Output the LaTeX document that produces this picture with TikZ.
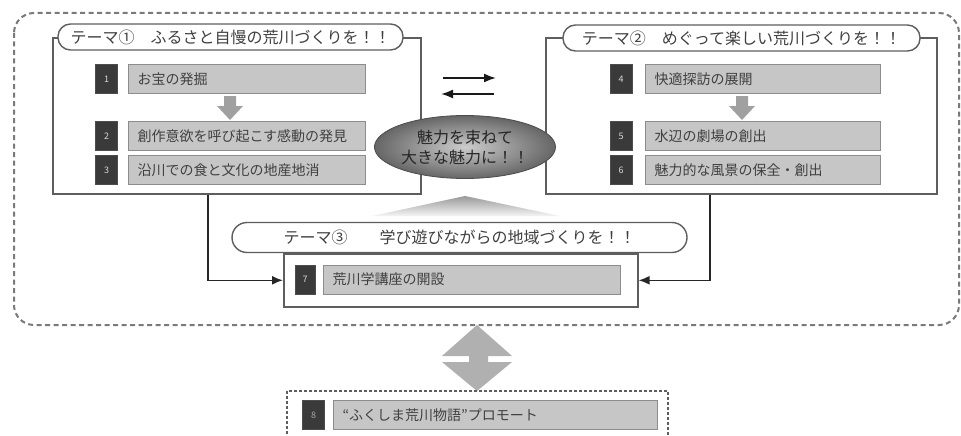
\documentclass[tikz,border=0pt]{standalone}
\usepackage{fontspec}
\setmainfont{Noto Sans CJK JP}
\usetikzlibrary{arrows.meta,shapes.geometric,calc}
\definecolor{frameC}{HTML}{5E5E5E}
\definecolor{numC}{HTML}{3A3A3A}
\definecolor{itemC}{HTML}{C6C6C6}
\definecolor{itemB}{HTML}{8C8C8C}
\definecolor{textC}{HTML}{404040}
\definecolor{arrowC}{HTML}{A0A0A0}
\definecolor{dashC}{HTML}{7A7A7A}
\begin{document}
\begin{tikzpicture}[x=1pt,y=-1pt,
  frame/.style={draw=frameC, line width=1.6pt, fill=white, inner sep=0pt, anchor=north west},
  pill/.style={draw=frameC, line width=1.4pt, fill=white, rounded corners=12.5pt, inner sep=0pt,
    font=\fontsize{16}{18}\selectfont, text=textC},
  numbox/.style={fill=numC, draw=black!70, line width=0.6pt, minimum width=22pt, minimum height=29pt,
    inner sep=0pt, text=white!85!black, font=\fontsize{9}{10}\selectfont},
  itembox/.style={fill=itemC, draw=itemB, line width=1pt, minimum height=29pt, inner xsep=9pt,
    inner ysep=0pt, align=left, text width=#1, font=\fontsize{14}{16}\selectfont, text=textC, anchor=west},
  conn/.style={draw=black!85, line width=1.6pt, -{Latex[length=11pt,width=9pt]}},
  swap/.style={draw=black!90, line width=1.8pt, -{Latex[length=12pt,width=9pt]}},
  garrow/.style={fill=arrowC, draw=none},
  outerdash/.style={draw=dashC, line width=2pt, dash pattern=on 5pt off 3.5pt, rounded corners=20pt},
  innerdash/.style={draw=frameC, line width=1.5pt, dash pattern=on 3pt off 2pt}
]
\useasboundingbox (0,0) rectangle (961,436);
\fill[white] (0,0) rectangle (961,436);

% outer dashed frame
\draw[outerdash] (14,13) rectangle (959,325);

% theme frames
\node[frame, minimum width=368pt, minimum height=156pt] (L) at (52,37) {};
\node[frame, minimum width=391pt, minimum height=156pt] (R) at (545,37) {};
\node[frame, minimum width=354pt, minimum height=53pt] (B7) at (283,253) {};

% titles
\node[pill, minimum width=345pt, minimum height=26pt] (PL) at (230.5,37) {テーマ①　ふるさと自慢の荒川づくりを！！};
\node[pill, minimum width=357pt, minimum height=26pt] (PR) at (741.5,38) {テーマ②　めぐって楽しい荒川づくりを！！};
\node[pill, minimum width=455pt, minimum height=30pt, rounded corners=15pt] (P3) at (459.5,237.5) {テーマ③　　学び遊びながらの地域づくりを！！};

% left items
\node[numbox] (n1) at (106.5,79) {1};
\node[itembox=219pt] (i1) at (128,79) {お宝の発掘};
\node[numbox] (n2) at (106.5,136) {2};
\node[itembox=219pt] (i2) at (128,136) {創作意欲を呼び起こす感動の発見};
\node[numbox] (n3) at (106.5,170) {3};
\node[itembox=219pt] (i3) at (128,170) {沿川での食と文化の地産地消};

% right items
\node[numbox] (n4) at (621,79) {4};
\node[itembox=217pt] (i4) at (645,79) {快適探訪の展開};
\node[numbox] (n5) at (621,136) {5};
\node[itembox=217pt] (i5) at (645,136) {水辺の劇場の創出};
\node[numbox] (n6) at (621,170) {6};
\node[itembox=217pt] (i6) at (645,170) {魅力的な風景の保全・創出};

% item 7
\node[numbox, minimum width=20pt] (n7) at (305,279.5) {7};
\node[itembox=279pt] (i7) at (323,279.5) {荒川学講座の開設};

% gray down arrows
\fill[garrow] (224,96) -- (236,96) -- (236,106) -- (243,106) -- (230,120) -- (217,106) -- (224,106) -- cycle;
\fill[garrow] (736,96) -- (748,96) -- (748,106) -- (755,106) -- (742,120) -- (729,106) -- (736,106) -- cycle;

% exchange arrows
\coordinate (s1) at (443,78);
\coordinate (e1) at (496,78);
\coordinate (s2) at (494,94);
\coordinate (e2) at (441,94);
\draw[swap] (s1) -- (e1);
\draw[swap] (s2) -- (e2);

% wedge
\shade[top color=gray!80, bottom color=gray!8] (465,196) -- (560,216) -- (372,216) -- cycle;

% central ellipse
\node[ellipse, minimum width=170pt, minimum height=63pt, inner sep=0pt,
  shading=radial, inner color=gray!40, outer color=gray!80!black, draw=gray!60!black, line width=0.8pt,
  align=center, text=black!85, font=\fontsize{16}{20}\selectfont] (E) at (465,147) {魅力を束ねて\\大きな魅力に！！};

% connectors into item 7
\coordinate (lx) at (208,0);
\coordinate (rx) at (710,0);
\draw[conn] (L.south -| lx) |- (B7.west);
\draw[conn] (R.south -| rx) |- (B7.east);

% bottom double arrow
\fill[fill=gray!62] (477,325) -- (512,356) -- (488,356) -- (488,362) -- (512,362) -- (477,391)
  -- (442,362) -- (469,362) -- (469,356) -- (442,356) -- cycle;

% bottom dashed box
\draw[innerdash] (287,391) rectangle (668,470);
\node[numbox, text=gray!70] (n8) at (313.5,415) {8};
\node[itembox=306pt] (i8) at (333,415) {“ふくしま荒川物語”プロモート};
\end{tikzpicture}
\end{document}
